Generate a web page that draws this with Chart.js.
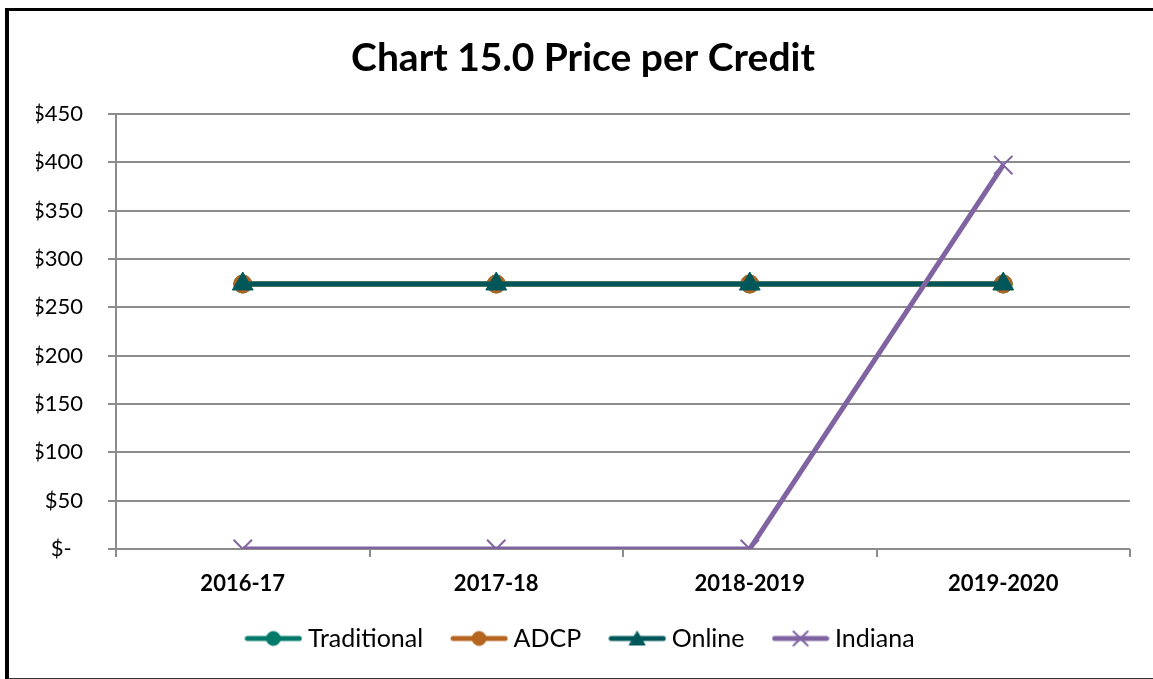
<!DOCTYPE html>
<html>
<head>
<meta charset="utf-8">
<script src="https://cdn.jsdelivr.net/npm/chart.js@4.4.0/dist/chart.umd.min.js"></script>
<style>
  html, body { margin: 0; padding: 0; background: #fff; overflow: hidden; }
  #wrap { position: relative; width: 1153px; height: 679px; }
  #frame {
    position: absolute; left: 5px; top: 8px; width: 1160px; height: 667px;
    border-left: 4px solid #000; border-top: 3px solid #000; border-bottom: 2px solid #333;
    box-sizing: content-box; pointer-events: none;
  }
  canvas { position: absolute; left: 0; top: 0; }
</style>
</head>
<body>
<div id="wrap">
  <canvas id="priceChart" width="1153" height="679"></canvas>
  <div id="frame"></div>
</div>
<script>
// data
const years = ['2016-17', '2017-18', '2018-2019', '2019-2020'];
const traditional = [274, 274, 274, 274];
const adcp = [274, 274, 274, 274];
const online = [274, 274, 274, 274];
const indiana = [0, 0, 0, 397];
const yTicks = [0, 50, 100, 150, 200, 250, 300, 350, 400, 450];

const FONT = 'Lato, "Open Sans", sans-serif';

// small picture for the legend: a line with the marker on it
const legendImage = (color, style, radius, bw) => {
    const c = document.createElement('canvas');
    c.width = 58; c.height = 24;
    const g = c.getContext('2d');
    g.strokeStyle = color;
    g.lineWidth = 5;
    g.lineCap = 'round';
    g.beginPath();
    g.moveTo(3, 12); g.lineTo(55, 12);
    g.stroke();
    g.fillStyle = color;
    g.lineWidth = bw;
    Chart.helpers.drawPoint(g, { pointStyle: style, radius: radius, borderWidth: bw, rotation: 0 }, 29, style === 'triangle' ? 14 : 12);
    return c;
};

// order: lower number is drawn on top, so Indiana ends up above the rest
const series = [
    { label: 'Traditional', data: traditional, color: '#00786A', style: 'circle', r: 9, lr: 7, order: 3 },
    { label: 'ADCP', data: adcp, color: '#B5651D', style: 'circle', r: 9, lr: 7, order: 2 },
    { label: 'Online', data: online, color: '#00575A', style: 'triangle', r: 12, lr: 9, order: 1 },
    { label: 'Indiana', data: indiana, color: '#8064A2', style: 'crossRot', r: 13, lr: 10, order: 0 }
];

const ctx = document.getElementById('priceChart').getContext('2d');
const chart = new Chart(ctx, {
    type: 'line',
    data: {
        labels: years,
        datasets: series.map(s => ({
            label: s.label,
            data: s.data,
            order: s.order,
            borderColor: s.color,
            backgroundColor: s.color,
            borderWidth: 5,
            pointStyle: s.style,
            pointRadius: s.r,
            pointBorderWidth: s.style === 'crossRot' ? 2 : 1,
            pointBackgroundColor: s.color,
            pointBorderColor: s.color,
            tension: 0,
            fill: false
        }))
    },
    options: {
        responsive: false,
        animation: false,
        layout: { padding: { left: 36, right: 23, top: 35, bottom: 18 } },
        plugins: {
            title: {
                display: true,
                text: 'Chart 15.0 Price per Credit',
                color: '#000',
                font: { family: FONT, size: 39, weight: 'bold' },
                padding: { top: 0, bottom: 32 }
            },
            legend: {
                position: 'bottom',
                labels: {
                    color: '#000',
                    font: { family: FONT, size: 25 },
                    usePointStyle: true,
                    pointStyleWidth: 44,
                    boxHeight: 22,
                    padding: 34,
                    generateLabels: (ch) => series.map((s, i) => ({
                        text: s.label,
                        pointStyle: legendImage(s.color, s.style, s.lr, s.style === 'crossRot' ? 2 : 1),
                        fillStyle: s.color,
                        strokeStyle: s.color,
                        lineWidth: 0,
                        datasetIndex: i,
                        hidden: false
                    }))
                }
            },
            tooltip: { enabled: false }
        },
        scales: {
            x: {
                offset: true,
                grid: {
                    offset: true,
                    drawOnChartArea: false,
                    drawTicks: true,
                    tickLength: 8,
                    color: '#8c8c8c',
                    lineWidth: 2
                },
                border: { display: false },
                ticks: {
                    color: '#000',
                    padding: 14,
                    font: { family: FONT, size: 22, weight: 'bold' },
                    maxRotation: 0
                },
                afterFit: (scale) => { scale.height = 43; }
            },
            y: {
                min: 0,
                max: 450,
                afterBuildTicks: (scale) => { scale.ticks = yTicks.map(v => ({ value: v })); },
                grid: {
                    color: '#8c8c8c',
                    lineWidth: 2,
                    drawTicks: true,
                    tickLength: 8
                },
                border: { display: true, color: '#8c8c8c', width: 2 },
                ticks: {
                    color: '#000',
                    padding: 25,
                    font: { family: FONT, size: 22 },
                    callback: (v) => v === 0 ? '$-  ' : '$' + v
                },
                afterFit: (scale) => { scale.width = 80; }
            }
        }
    }
});
</script>
</body>
</html>
